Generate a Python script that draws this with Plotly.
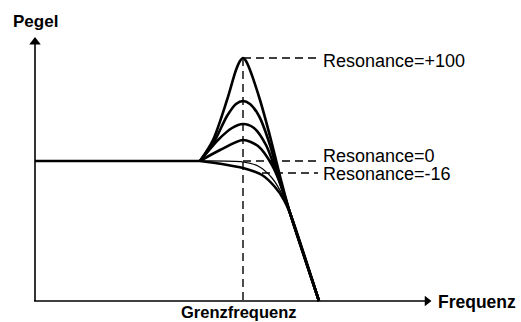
import plotly.graph_objects as go

# Level response of the filter for several resonance settings.
# x: frequency (arbitrary units), y: level (arbitrary units)
flat_x = [0, 165]
flat_y = [140, 140]

res100_x = [165, 178, 192, 201, 205, 208, 211, 215, 225, 236, 246, 255, 284]
res100_y = [140, 161, 201, 231, 240, 243, 240, 231, 201, 161, 121, 88, 0]

res75_x = [165, 180, 192, 201, 208, 215, 224, 235, 246, 255, 284]
res75_y = [140, 161, 185, 197, 200, 197, 185, 156, 116, 88, 0]

res50_x = [165, 183, 197, 208, 219, 231, 244, 255, 284]
res50_y = [140, 161, 173, 177, 173, 156, 121, 88, 0]

res25_x = [165, 185, 208, 223, 237, 247, 255, 284]
res25_y = [140, 151, 161, 155, 136, 113, 88, 0]

res0_x = [165, 208, 223, 237, 248, 255, 284]
res0_y = [140, 139, 135, 123, 105, 88, 0]

resm16_x = [165, 187, 208, 227, 240, 249, 255, 284]
resm16_y = [140, 137, 133, 126, 114, 101, 88, 0]

cutoff = 208
peak_level = 243
flat_level = 140
m16_level = 128
m16_start = 227
label_x = 283

labels = ["Resonance=+100", "Resonance=0", "Resonance=-16"]
label_levels = [240, 145, 127]

FONT = "Liberation Sans, Arial, sans-serif"
BLACK = "#000000"

fig = go.Figure()

def curve(x, y, width):
    fig.add_trace(go.Scatter(x=x, y=y, mode="lines",
                             line=dict(color=BLACK, width=width, shape="spline", smoothing=0.8),
                             hoverinfo="skip", showlegend=False))

# guide lines
dash = "8px,5px"
for xs, ys in [([cutoff, cutoff], [peak_level, 0]),
               ([cutoff, label_x], [peak_level, peak_level]),
               ([cutoff, label_x], [flat_level, flat_level]),
               ([m16_start, label_x], [m16_level, m16_level])]:
    fig.add_trace(go.Scatter(x=xs, y=ys, mode="lines",
                             line=dict(color=BLACK, width=1.4, dash=dash),
                             hoverinfo="skip", showlegend=False))

# axes with arrow heads
fig.add_trace(go.Scatter(x=[0, 0], y=[0, 258], mode="lines",
                         line=dict(color=BLACK, width=1.6), hoverinfo="skip", showlegend=False))
fig.add_trace(go.Scatter(x=[-1, 391], y=[0, 0], mode="lines",
                         line=dict(color=BLACK, width=1.6), hoverinfo="skip", showlegend=False))
fig.add_trace(go.Scatter(x=[0], y=[259], mode="markers",
                         marker=dict(symbol="triangle-up", size=10, color=BLACK),
                         cliponaxis=False, hoverinfo="skip", showlegend=False))
fig.add_trace(go.Scatter(x=[392], y=[0], mode="markers",
                         marker=dict(symbol="triangle-right", size=9, color=BLACK),
                         cliponaxis=False, hoverinfo="skip", showlegend=False))

# response curves
curve(flat_x, flat_y, 2.6)
curve(res100_x, res100_y, 2.6)
curve(res75_x, res75_y, 2.6)
curve(res50_x, res50_y, 2.6)
curve(res25_x, res25_y, 2.6)
curve(res0_x, res0_y, 1.2)
curve(resm16_x, resm16_y, 2.6)

annotations = []
for text, lv in zip(labels, label_levels):
    annotations.append(dict(x=label_x + 3, y=lv, text=text, showarrow=False,
                            xanchor="left", yanchor="middle",
                            font=dict(family=FONT, size=18, color=BLACK)))
annotations += [
    dict(x=0, y=280, text="<b>Pegel</b>", showarrow=False, xanchor="center", yanchor="middle",
         font=dict(family=FONT, size=17, color=BLACK)),
    dict(x=401, y=-1, text="<b>Frequenz</b>", showarrow=False, xanchor="left", yanchor="middle",
         font=dict(family=FONT, size=17.5, color=BLACK)),
    dict(x=203.5, y=-11, text="<b>Grenzfrequenz</b>", showarrow=False, xanchor="center", yanchor="middle",
         font=dict(family=FONT, size=16.5, color=BLACK)),
]

fig.update_layout(
    width=521, height=322,
    margin=dict(l=0, r=0, t=0, b=0),
    paper_bgcolor="white", plot_bgcolor="white",
    xaxis=dict(range=[-35, 486], visible=False, fixedrange=True),
    yaxis=dict(range=[-21, 301], visible=False, fixedrange=True),
    annotations=annotations,
    showlegend=False,
)

fig.write_html("out.html")
